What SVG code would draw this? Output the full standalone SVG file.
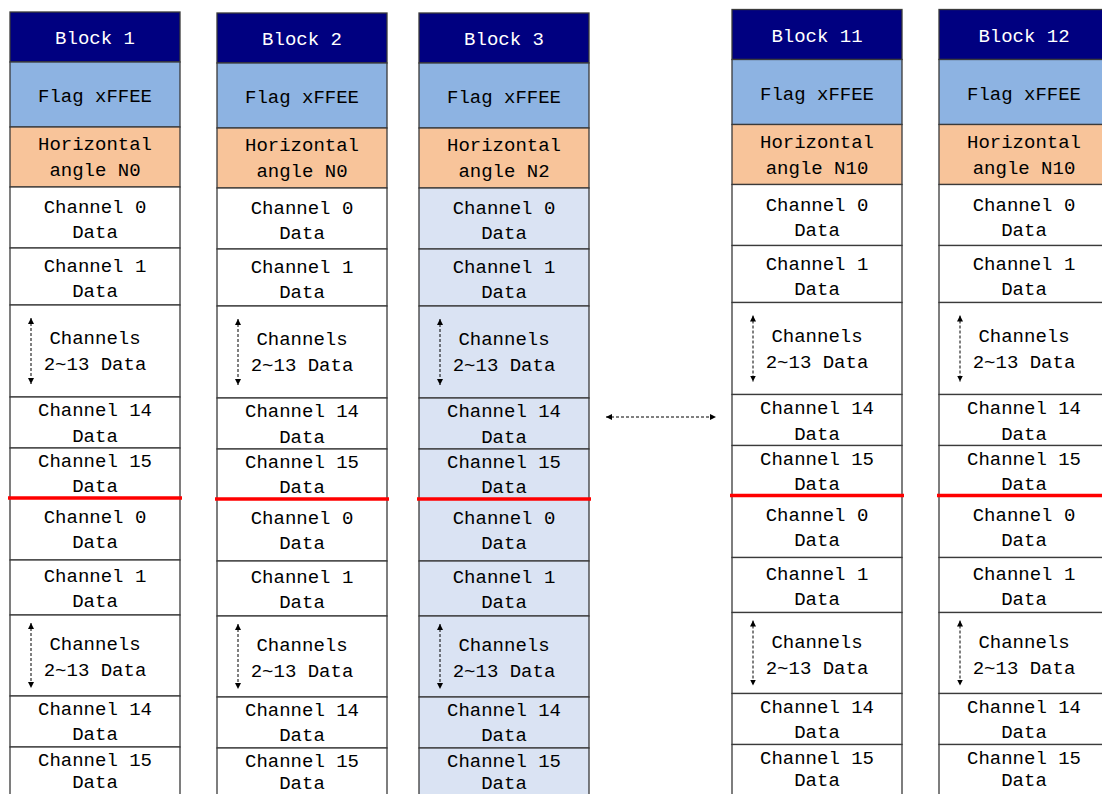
<svg xmlns="http://www.w3.org/2000/svg" width="1102" height="794" viewBox="0 0 1102 794">
<style>
.cell{fill:#ffffff;stroke:#3a3a3a;stroke-width:1.3}
.lb{fill:#dae3f3}
.hd{fill:#000080;stroke:#3a3a3a;stroke-width:1.3}
.fl{fill:#8db3e2;stroke:#3a3a3a;stroke-width:1.3}
.ha{fill:#f8c49a;stroke:#3a3a3a;stroke-width:1.3}
.t{font-family:"Liberation Mono","DejaVu Sans Mono",monospace;font-size:19px;text-anchor:middle;fill:#000}
.w{fill:#ffffff}
.red{stroke:#ff0000;stroke-width:3.5;fill:none}
.da{stroke:#000;stroke-width:1;stroke-dasharray:3 2;fill:none;marker-start:url(#ah);marker-end:url(#ah)}
</style>
<defs>
<marker id="ah" viewBox="0 0 10 10" refX="10" refY="5" markerWidth="6" markerHeight="6" markerUnits="userSpaceOnUse" orient="auto-start-reverse">
<path d="M0,0 L10,5 L0,10 z" fill="#000"/>
</marker>
</defs>
<rect x="0" y="0" width="1102" height="794" fill="#ffffff"/>

<g id="block1" transform="translate(10,0)">
<rect class="hd" x="0" y="12" width="170" height="50"/>
<rect class="fl" x="0" y="62" width="170" height="65"/>
<rect class="ha" x="0" y="127" width="170" height="60"/>
<rect class="cell" x="0" y="187" width="170" height="61"/>
<rect class="cell" x="0" y="248" width="170" height="57"/>
<rect class="cell" x="0" y="305" width="170" height="92"/>
<rect class="cell" x="0" y="397" width="170" height="51"/>
<rect class="cell" x="0" y="448" width="170" height="50"/>
<rect class="cell" x="0" y="498" width="170" height="62"/>
<rect class="cell" x="0" y="560" width="170" height="55"/>
<rect class="cell" x="0" y="615" width="170" height="81"/>
<rect class="cell" x="0" y="696" width="170" height="51"/>
<rect class="cell" x="0" y="747" width="170" height="60"/>
<text class="t w" x="85" y="44">Block 1</text>
<text class="t" x="85" y="102">Flag xFFEE</text>
<text class="t" x="85" y="150">Horizontal</text><text class="t" x="85" y="176">angle N0</text>
<text class="t" x="85" y="213">Channel 0</text><text class="t" x="85" y="238">Data</text>
<text class="t" x="85" y="272">Channel 1</text><text class="t" x="85" y="297">Data</text>
<text class="t" x="85" y="344">Channels</text><text class="t" x="85" y="370">2~13 Data</text>
<text class="t" x="85" y="416">Channel 14</text><text class="t" x="85" y="442">Data</text>
<text class="t" x="85" y="467">Channel 15</text><text class="t" x="85" y="492">Data</text>
<text class="t" x="85" y="523">Channel 0</text><text class="t" x="85" y="548">Data</text>
<text class="t" x="85" y="582">Channel 1</text><text class="t" x="85" y="607">Data</text>
<text class="t" x="85" y="650">Channels</text><text class="t" x="85" y="676">2~13 Data</text>
<text class="t" x="85" y="715">Channel 14</text><text class="t" x="85" y="740">Data</text>
<text class="t" x="85" y="766">Channel 15</text><text class="t" x="85" y="788">Data</text>
<line class="red" x1="-2" y1="498" x2="172" y2="498"/>
</g>

<g id="block2" transform="translate(217,1)">
<rect class="hd" x="0" y="12" width="170" height="50"/>
<rect class="fl" x="0" y="62" width="170" height="65"/>
<rect class="ha" x="0" y="127" width="170" height="60"/>
<rect class="cell" x="0" y="187" width="170" height="61"/>
<rect class="cell" x="0" y="248" width="170" height="57"/>
<rect class="cell" x="0" y="305" width="170" height="92"/>
<rect class="cell" x="0" y="397" width="170" height="51"/>
<rect class="cell" x="0" y="448" width="170" height="50"/>
<rect class="cell" x="0" y="498" width="170" height="62"/>
<rect class="cell" x="0" y="560" width="170" height="55"/>
<rect class="cell" x="0" y="615" width="170" height="81"/>
<rect class="cell" x="0" y="696" width="170" height="51"/>
<rect class="cell" x="0" y="747" width="170" height="60"/>
<text class="t w" x="85" y="44">Block 2</text>
<text class="t" x="85" y="102">Flag xFFEE</text>
<text class="t" x="85" y="150">Horizontal</text><text class="t" x="85" y="176">angle N0</text>
<text class="t" x="85" y="213">Channel 0</text><text class="t" x="85" y="238">Data</text>
<text class="t" x="85" y="272">Channel 1</text><text class="t" x="85" y="297">Data</text>
<text class="t" x="85" y="344">Channels</text><text class="t" x="85" y="370">2~13 Data</text>
<text class="t" x="85" y="416">Channel 14</text><text class="t" x="85" y="442">Data</text>
<text class="t" x="85" y="467">Channel 15</text><text class="t" x="85" y="492">Data</text>
<text class="t" x="85" y="523">Channel 0</text><text class="t" x="85" y="548">Data</text>
<text class="t" x="85" y="582">Channel 1</text><text class="t" x="85" y="607">Data</text>
<text class="t" x="85" y="650">Channels</text><text class="t" x="85" y="676">2~13 Data</text>
<text class="t" x="85" y="715">Channel 14</text><text class="t" x="85" y="740">Data</text>
<text class="t" x="85" y="766">Channel 15</text><text class="t" x="85" y="788">Data</text>
<line class="red" x1="-2" y1="498" x2="172" y2="498"/>
</g>

<g id="block3" transform="translate(419,1)">
<rect class="hd" x="0" y="12" width="170" height="50"/>
<rect class="fl" x="0" y="62" width="170" height="65"/>
<rect class="ha" x="0" y="127" width="170" height="60"/>
<rect class="cell lb" x="0" y="187" width="170" height="61"/>
<rect class="cell lb" x="0" y="248" width="170" height="57"/>
<rect class="cell lb" x="0" y="305" width="170" height="92"/>
<rect class="cell lb" x="0" y="397" width="170" height="51"/>
<rect class="cell lb" x="0" y="448" width="170" height="50"/>
<rect class="cell lb" x="0" y="498" width="170" height="62"/>
<rect class="cell lb" x="0" y="560" width="170" height="55"/>
<rect class="cell lb" x="0" y="615" width="170" height="81"/>
<rect class="cell lb" x="0" y="696" width="170" height="51"/>
<rect class="cell lb" x="0" y="747" width="170" height="60"/>
<text class="t w" x="85" y="44">Block 3</text>
<text class="t" x="85" y="102">Flag xFFEE</text>
<text class="t" x="85" y="150">Horizontal</text><text class="t" x="85" y="176">angle N2</text>
<text class="t" x="85" y="213">Channel 0</text><text class="t" x="85" y="238">Data</text>
<text class="t" x="85" y="272">Channel 1</text><text class="t" x="85" y="297">Data</text>
<text class="t" x="85" y="344">Channels</text><text class="t" x="85" y="370">2~13 Data</text>
<text class="t" x="85" y="416">Channel 14</text><text class="t" x="85" y="442">Data</text>
<text class="t" x="85" y="467">Channel 15</text><text class="t" x="85" y="492">Data</text>
<text class="t" x="85" y="523">Channel 0</text><text class="t" x="85" y="548">Data</text>
<text class="t" x="85" y="582">Channel 1</text><text class="t" x="85" y="607">Data</text>
<text class="t" x="85" y="650">Channels</text><text class="t" x="85" y="676">2~13 Data</text>
<text class="t" x="85" y="715">Channel 14</text><text class="t" x="85" y="740">Data</text>
<text class="t" x="85" y="766">Channel 15</text><text class="t" x="85" y="788">Data</text>
<line class="red" x1="-2" y1="498" x2="172" y2="498"/>
</g>

<g id="block11" transform="translate(732,-2.5)">
<rect class="hd" x="0" y="12" width="170" height="50"/>
<rect class="fl" x="0" y="62" width="170" height="65"/>
<rect class="ha" x="0" y="127" width="170" height="60"/>
<rect class="cell" x="0" y="187" width="170" height="61"/>
<rect class="cell" x="0" y="248" width="170" height="57"/>
<rect class="cell" x="0" y="305" width="170" height="92"/>
<rect class="cell" x="0" y="397" width="170" height="51"/>
<rect class="cell" x="0" y="448" width="170" height="50"/>
<rect class="cell" x="0" y="498" width="170" height="62"/>
<rect class="cell" x="0" y="560" width="170" height="55"/>
<rect class="cell" x="0" y="615" width="170" height="81"/>
<rect class="cell" x="0" y="696" width="170" height="51"/>
<rect class="cell" x="0" y="747" width="170" height="60"/>
<text class="t w" x="85" y="44">Block 11</text>
<text class="t" x="85" y="102">Flag xFFEE</text>
<text class="t" x="85" y="150">Horizontal</text><text class="t" x="85" y="176">angle N10</text>
<text class="t" x="85" y="213">Channel 0</text><text class="t" x="85" y="238">Data</text>
<text class="t" x="85" y="272">Channel 1</text><text class="t" x="85" y="297">Data</text>
<text class="t" x="85" y="344">Channels</text><text class="t" x="85" y="370">2~13 Data</text>
<text class="t" x="85" y="416">Channel 14</text><text class="t" x="85" y="442">Data</text>
<text class="t" x="85" y="467">Channel 15</text><text class="t" x="85" y="492">Data</text>
<text class="t" x="85" y="523">Channel 0</text><text class="t" x="85" y="548">Data</text>
<text class="t" x="85" y="582">Channel 1</text><text class="t" x="85" y="607">Data</text>
<text class="t" x="85" y="650">Channels</text><text class="t" x="85" y="676">2~13 Data</text>
<text class="t" x="85" y="715">Channel 14</text><text class="t" x="85" y="740">Data</text>
<text class="t" x="85" y="766">Channel 15</text><text class="t" x="85" y="788">Data</text>
<line class="red" x1="-2" y1="498" x2="172" y2="498"/>
</g>

<g id="block12" transform="translate(939,-2.5)">
<rect class="hd" x="0" y="12" width="170" height="50"/>
<rect class="fl" x="0" y="62" width="170" height="65"/>
<rect class="ha" x="0" y="127" width="170" height="60"/>
<rect class="cell" x="0" y="187" width="170" height="61"/>
<rect class="cell" x="0" y="248" width="170" height="57"/>
<rect class="cell" x="0" y="305" width="170" height="92"/>
<rect class="cell" x="0" y="397" width="170" height="51"/>
<rect class="cell" x="0" y="448" width="170" height="50"/>
<rect class="cell" x="0" y="498" width="170" height="62"/>
<rect class="cell" x="0" y="560" width="170" height="55"/>
<rect class="cell" x="0" y="615" width="170" height="81"/>
<rect class="cell" x="0" y="696" width="170" height="51"/>
<rect class="cell" x="0" y="747" width="170" height="60"/>
<text class="t w" x="85" y="44">Block 12</text>
<text class="t" x="85" y="102">Flag xFFEE</text>
<text class="t" x="85" y="150">Horizontal</text><text class="t" x="85" y="176">angle N10</text>
<text class="t" x="85" y="213">Channel 0</text><text class="t" x="85" y="238">Data</text>
<text class="t" x="85" y="272">Channel 1</text><text class="t" x="85" y="297">Data</text>
<text class="t" x="85" y="344">Channels</text><text class="t" x="85" y="370">2~13 Data</text>
<text class="t" x="85" y="416">Channel 14</text><text class="t" x="85" y="442">Data</text>
<text class="t" x="85" y="467">Channel 15</text><text class="t" x="85" y="492">Data</text>
<text class="t" x="85" y="523">Channel 0</text><text class="t" x="85" y="548">Data</text>
<text class="t" x="85" y="582">Channel 1</text><text class="t" x="85" y="607">Data</text>
<text class="t" x="85" y="650">Channels</text><text class="t" x="85" y="676">2~13 Data</text>
<text class="t" x="85" y="715">Channel 14</text><text class="t" x="85" y="740">Data</text>
<text class="t" x="85" y="766">Channel 15</text><text class="t" x="85" y="788">Data</text>
<line class="red" x1="-2" y1="498" x2="172" y2="498"/>
</g>

<g id="connectors">
<line class="da" x1="31" y1="318" x2="31" y2="384"/>
<line class="da" x1="31" y1="623" x2="31" y2="688"/>
<line class="da" x1="238" y1="319" x2="238" y2="385"/>
<line class="da" x1="238" y1="624" x2="238" y2="689"/>
<line class="da" x1="440" y1="319" x2="440" y2="385"/>
<line class="da" x1="440" y1="624" x2="440" y2="689"/>
<line class="da" x1="753" y1="315.5" x2="753" y2="381.5"/>
<line class="da" x1="753" y1="620.5" x2="753" y2="685.5"/>
<line class="da" x1="960" y1="315.5" x2="960" y2="381.5"/>
<line class="da" x1="960" y1="620.5" x2="960" y2="685.5"/>
<line class="da" x1="606" y1="417" x2="716" y2="417"/>
</g>
</svg>
